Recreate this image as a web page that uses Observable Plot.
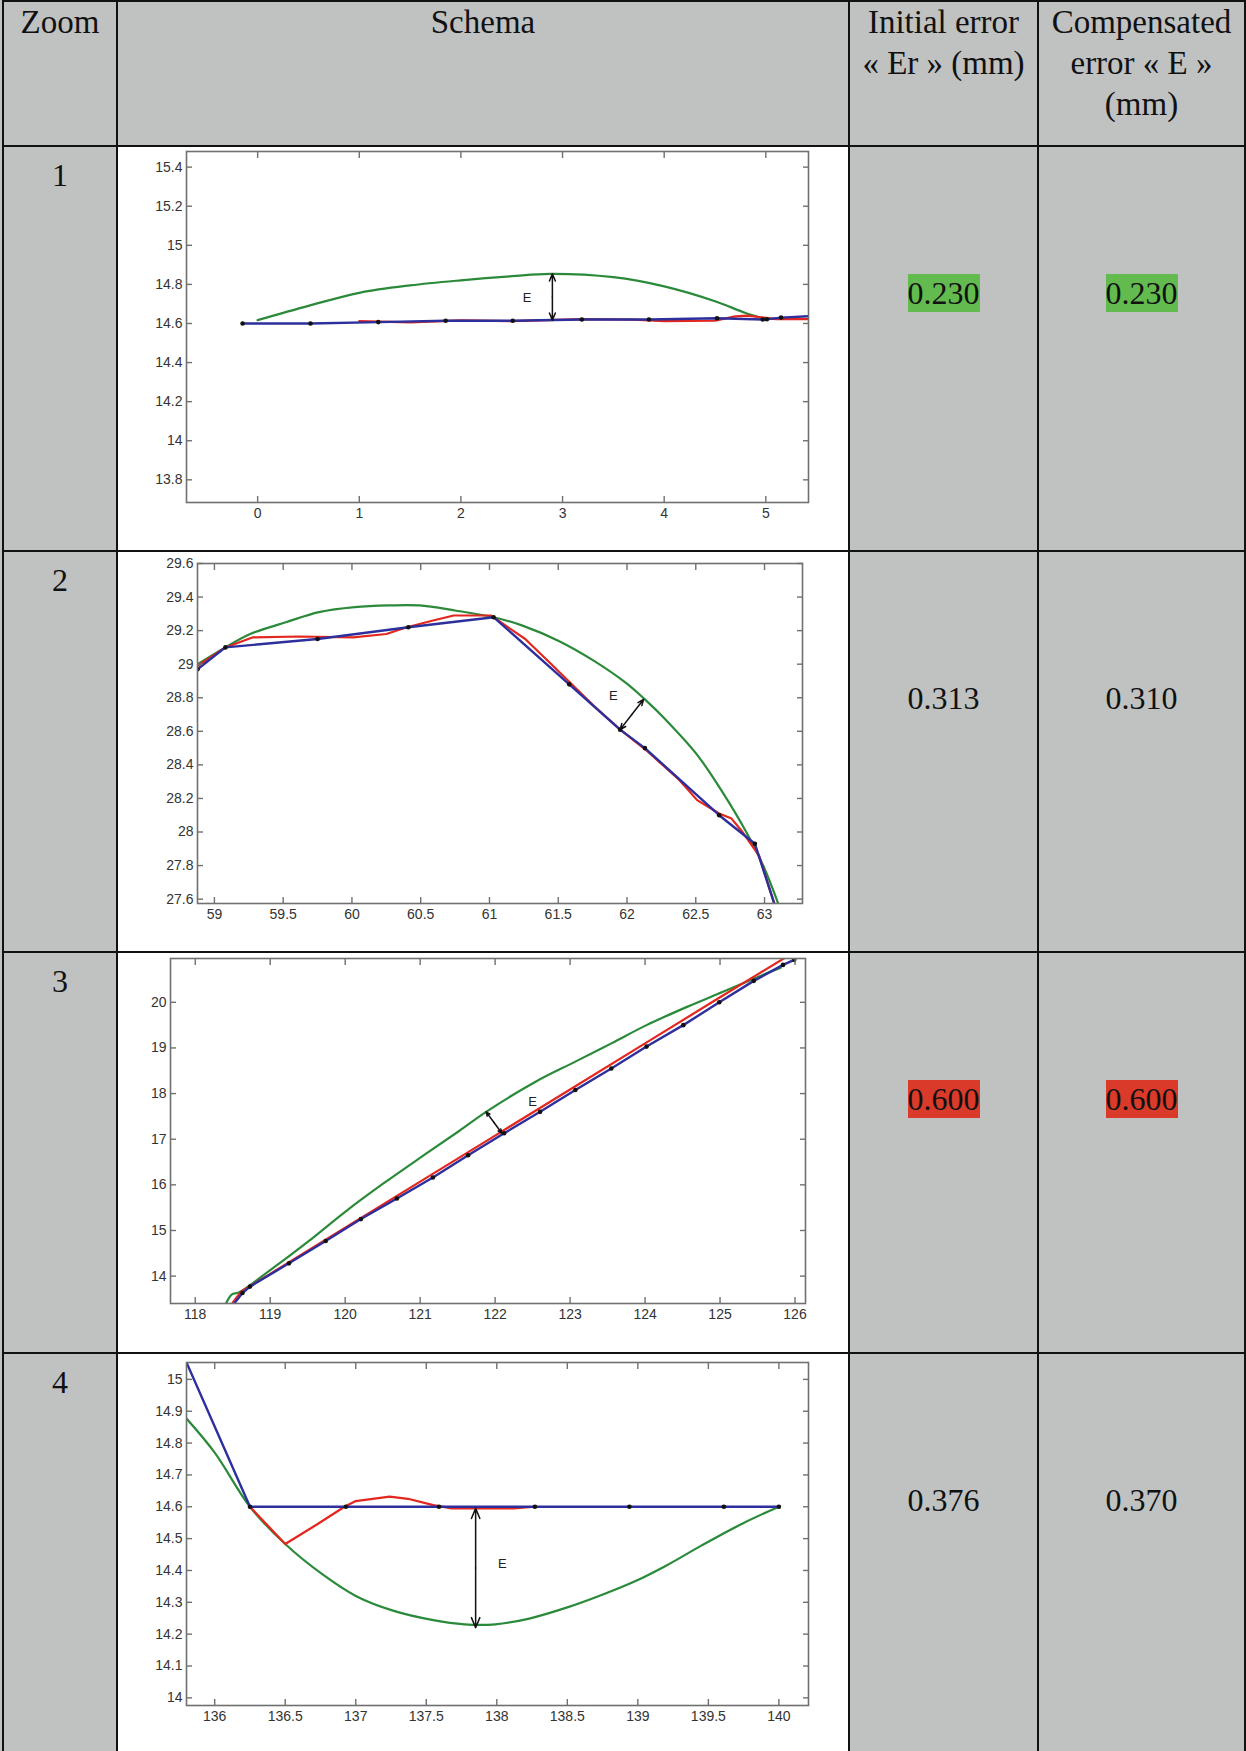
<!DOCTYPE html>
<html>
<head>
<meta charset="utf-8">
<script src="https://cdn.jsdelivr.net/npm/d3@7"></script>
<script src="https://cdn.jsdelivr.net/npm/@observablehq/plot@0.6"></script>
<style>
html, body { margin: 0; padding: 0; background: #ffffff; }
#page { position: relative; width: 1246px; height: 1751px; overflow: hidden; background: #bfc2c1;
  font-family: "Liberation Serif", "Times New Roman", serif; color: #111; }
.line { position: absolute; background: #111; }
.txt { position: absolute; text-align: center; font-size: 32px; white-space: pre-line; }
.head { font-size: 33px; }
.white { position: absolute; background: #ffffff; overflow: hidden; }
.hl { display: inline-block; line-height: 38px; }
</style>
</head>
<body>
<div id="page"></div>
<script>
// ---------- table data ----------
const headers = ["Zoom", "Schema", "Initial error\n« Er » (mm)", "Compensated\nerror « E »\n(mm)"];
const zoomIds = ["1", "2", "3", "4"];
const initialErrors = ["0.230", "0.313", "0.600", "0.376"];
const compensatedErrors = ["0.230", "0.310", "0.600", "0.370"];
const errorRank = ["low", "", "high", ""];

// ---------- chart 1 ----------
const c1Green = [[0,14.617],[0.5,14.69],[1,14.757],[1.5,14.795],[2,14.821],[2.5,14.842],[2.88,14.854],[3.5,14.837],[4,14.79],[4.5,14.714],[4.8,14.654],[5,14.622]];
const c1Red = [[1.0,14.612],[1.5,14.606],[2.0,14.616],[2.5,14.612],[3.2,14.622],[3.7,14.62],[4.0,14.612],[4.5,14.615],[4.7,14.636],[4.82,14.64],[4.95,14.632],[5.1,14.622],[5.42,14.622]];
const c1Blue = [[-0.148,14.6],[0.52,14.6],[1.187,14.607],[1.85,14.614],[2.51,14.614],[3.19,14.62],[3.85,14.62],[4.52,14.627],[4.97,14.62],[5.01,14.622],[5.15,14.63],[5.42,14.637]];
const c1Dots = [[-0.148,14.6],[0.52,14.6],[1.187,14.607],[1.85,14.614],[2.51,14.614],[3.19,14.62],[3.85,14.62],[4.52,14.627],[4.97,14.62],[5.01,14.622],[5.15,14.63]];
const c1Arrow = [[2.9,14.617],[2.9,14.854]];
const c1Label = [[2.65,14.731,"E"]];
const c1XTicks = [0,1,2,3,4,5];
const c1YTicks = [13.8,14,14.2,14.4,14.6,14.8,15,15.2,15.4];
const c1XDomain = [-0.70, 5.42];
const c1YDomain = [13.684, 15.48];

// ---------- chart 2 ----------
const c2Green = [[58.877,29.0],[59.08,29.1],[59.26,29.18],[59.52,29.25],[59.76,29.31],[60.02,29.34],[60.27,29.35],[60.49,29.35],[60.75,29.32],[61.03,29.28],[61.24,29.23],[61.5,29.14],[61.76,29.02],[61.99,28.89],[62.13,28.79],[62.28,28.67],[62.51,28.46],[62.7,28.23],[62.86,28.01],[62.99,27.8],[63.11,27.55]];
const c2Red = [[58.877,28.99],[59.08,29.1],[59.28,29.16],[59.62,29.165],[60.01,29.16],[60.25,29.18],[60.4,29.22],[60.59,29.26],[60.74,29.29],[61.01,29.29],[61.26,29.15],[61.45,29.0],[61.76,28.75],[61.95,28.61],[62.15,28.48],[62.38,28.31],[62.51,28.19],[62.67,28.11],[62.76,28.08],[62.84,28.0],[62.96,27.86],[63.08,27.55]];
const c2Blue = [[58.877,28.97],[59.08,29.1],[59.75,29.15],[60.41,29.22],[61.03,29.28],[61.58,28.88],[61.95,28.61],[62.13,28.5],[62.67,28.1],[62.93,27.93],[63.08,27.55]];
const c2Dots = [[58.877,28.97],[59.08,29.1],[59.75,29.15],[60.41,29.22],[61.03,29.28],[61.58,28.88],[61.95,28.61],[62.13,28.5],[62.67,28.1],[62.93,27.93]];
const c2Arrow = [[61.95,28.61],[62.12,28.79]];
const c2Label = [[61.9,28.81,"E"]];
const c2XTicks = [59,59.5,60,60.5,61,61.5,62,62.5,63];
const c2YTicks = [27.6,27.8,28,28.2,28.4,28.6,28.8,29,29.2,29.4,29.6];
const c2XDomain = [58.877, 63.276];
const c2YDomain = [27.574, 29.6];

// ---------- chart 3 ----------
const c3Green = [[118.41,13.4],[118.49,13.6],[118.58,13.64],[119.0,14.13],[119.5,14.75],[120.0,15.41],[120.51,16.03],[121.05,16.65],[121.52,17.18],[121.88,17.6],[122.54,18.26],[123.07,18.7],[123.55,19.1],[124.02,19.5],[124.56,19.9],[125.04,20.23],[125.57,20.6],[125.81,20.76]];
const c3Red = [[118.5,13.42],[118.61,13.66],[119,14.05],[120,15.06],[121,16.07],[122,17.08],[123,18.09],[124,19.1],[125,20.11],[125.93,21.04]];
const c3Blue = [[118.52,13.4],[118.63,13.63],[118.73,13.77],[119.25,14.28],[119.74,14.77],[120.21,15.25],[120.69,15.7],[121.17,16.16],[121.64,16.65],[122.12,17.13],[122.6,17.6],[123.07,18.08],[123.55,18.55],[124.02,19.03],[124.51,19.5],[124.99,20.0],[125.45,20.47],[125.84,20.82],[125.99,20.93]];
const c3Dots = [[118.63,13.63],[118.73,13.77],[119.25,14.28],[119.74,14.77],[120.21,15.25],[120.69,15.7],[121.17,16.16],[121.64,16.65],[122.12,17.13],[122.6,17.6],[123.07,18.08],[123.55,18.55],[124.02,19.03],[124.51,19.5],[124.99,20.0],[125.45,20.47],[125.84,20.82],[125.99,20.93]];
const c3Arrow = [[121.88,17.6],[122.09,17.13]];
const c3Label = [[122.5,17.82,"E"]];
const c3XTicks = [118,119,120,121,122,123,124,125,126];
const c3YTicks = [14,15,16,17,18,19,20];
const c3XDomain = [117.67, 126.14];
const c3YDomain = [13.4, 20.96];

// ---------- chart 4 ----------
const c4Green = [[135.8,14.877],[136.0,14.77],[136.25,14.6],[136.5,14.483],[136.76,14.389],[137.0,14.32],[137.27,14.273],[137.55,14.244],[137.77,14.231],[137.99,14.231],[138.23,14.249],[138.5,14.284],[138.72,14.319],[138.98,14.366],[139.2,14.415],[139.45,14.478],[139.74,14.547],[140.0,14.6]];
const c4Red = [[136.25,14.6],[136.5,14.483],[136.73,14.546],[136.92,14.6],[137.0,14.618],[137.24,14.632],[137.37,14.625],[137.55,14.605],[137.68,14.595],[138.12,14.595],[138.27,14.6]];
const c4Blue = [[135.8,15.053],[136.25,14.6],[136.93,14.6],[137.59,14.6],[138.27,14.6],[138.94,14.6],[139.61,14.6],[140.0,14.6]];
const c4Dots = [[136.25,14.6],[136.93,14.6],[137.59,14.6],[138.27,14.6],[138.94,14.6],[139.61,14.6],[140.0,14.6]];
const c4Arrow = [[137.85,14.595],[137.85,14.22]];
const c4Label = [[138.04,14.42,"E"]];
const c4XTicks = [136,136.5,137,137.5,138,138.5,139,139.5,140];
const c4YTicks = [14,14.1,14.2,14.3,14.4,14.5,14.6,14.7,14.8,14.9,15];
const c4XDomain = [135.80, 140.21];
const c4YDomain = [13.976, 15.053];

// ---------- styling / layout ----------
const GREEN = "#2b8a3a", RED = "#e3261e", BLUE = "#2c2f9c", AXIS = "#707070";
const colX = [3, 117, 849, 1038, 1245];
const rowY = [1, 146, 551, 952, 1353, 1760];
const fmt = d => String(+(+d).toFixed(2));

function makeChart(spec) {
  const X = d => d[0], Y = d => d[1];
  const [a, b] = spec.arrow;
  const mid = [(a[0] + b[0]) / 2, (a[1] + b[1]) / 2];
  return Plot.plot({
    width: spec.width, height: spec.height,
    marginLeft: spec.m[0], marginRight: spec.m[1], marginTop: spec.m[2], marginBottom: spec.m[3],
    x: {domain: spec.xDomain},
    y: {domain: spec.yDomain},
    style: {fontFamily: "'Liberation Sans', Arial, sans-serif", fontSize: "14px", background: "#ffffff", color: "#333"},
    marks: [
      Plot.line(spec.green, {x: X, y: Y, stroke: GREEN, strokeWidth: 2.2, curve: "catmull-rom", clip: true}),
      Plot.line(spec.red, {x: X, y: Y, stroke: RED, strokeWidth: 2.2, clip: true}),
      Plot.line(spec.blue, {x: X, y: Y, stroke: BLUE, strokeWidth: 2.4, clip: true}),
      Plot.dot(spec.dots, {x: X, y: Y, r: 2.3, fill: "#111", stroke: "none", clip: true}),
      Plot.arrow([[mid, a], [mid, b]], {x1: d => d[0][0], y1: d => d[0][1], x2: d => d[1][0], y2: d => d[1][1],
        stroke: "#111", strokeWidth: 1.5, headLength: 11, headAngle: 45}),
      Plot.text(spec.label, {x: X, y: Y, text: d => d[2], fontSize: 13, fill: "#222"}),
      Plot.frame({stroke: AXIS, strokeWidth: 1.6}),
      Plot.axisX(spec.xTicks, {anchor: "bottom", tickSize: 0, tickPadding: 6, tickFormat: fmt, label: null, fill: "#333", fontSize: 14}),
      Plot.axisY(spec.yTicks, {anchor: "left", tickSize: 0, tickPadding: 4, tickFormat: fmt, label: null, fill: "#333", fontSize: 14}),
      Plot.axisX(spec.xTicks, {anchor: "bottom", tickSize: 6, dy: -6, tickFormat: () => "", label: null, stroke: AXIS, strokeWidth: 1.4}),
      Plot.axisX(spec.xTicks, {anchor: "top", tickSize: 6, dy: 6, tickFormat: () => "", label: null, stroke: AXIS, strokeWidth: 1.4}),
      Plot.axisY(spec.yTicks, {anchor: "left", tickSize: 6, dx: 6, tickFormat: () => "", label: null, stroke: AXIS, strokeWidth: 1.4}),
      Plot.axisY(spec.yTicks, {anchor: "right", tickSize: 6, dx: -6, tickFormat: () => "", label: null, stroke: AXIS, strokeWidth: 1.4})
    ]
  });
}

const specs = [
  {green: c1Green, red: c1Red, blue: c1Blue, dots: c1Dots, arrow: c1Arrow, label: c1Label, xTicks: c1XTicks, yTicks: c1YTicks, xDomain: c1XDomain, yDomain: c1YDomain, box: [186, 808, 151, 502]},
  {green: c2Green, red: c2Red, blue: c2Blue, dots: c2Dots, arrow: c2Arrow, label: c2Label, xTicks: c2XTicks, yTicks: c2YTicks, xDomain: c2XDomain, yDomain: c2YDomain, box: [197, 802, 563, 903]},
  {green: c3Green, red: c3Red, blue: c3Blue, dots: c3Dots, arrow: c3Arrow, label: c3Label, xTicks: c3XTicks, yTicks: c3YTicks, xDomain: c3XDomain, yDomain: c3YDomain, box: [170, 805, 958, 1303]},
  {green: c4Green, red: c4Red, blue: c4Blue, dots: c4Dots, arrow: c4Arrow, label: c4Label, xTicks: c4XTicks, yTicks: c4YTicks, xDomain: c4XDomain, yDomain: c4YDomain, box: [186, 808, 1362, 1705]}
];

const page = document.getElementById("page");
function el(cls, css, text) {
  const d = document.createElement("div");
  d.className = cls;
  Object.assign(d.style, css);
  if (text != null) d.textContent = text;
  page.appendChild(d);
  return d;
}

// white schema cells with charts
zoomIds.forEach((z, r) => {
  const top = rowY[r + 1] + 1, bottom = rowY[r + 2] - 1;
  const left = colX[1] + 1, right = colX[2] - 1;
  const w = el("white", {left: left + "px", top: top + "px", width: (right - left) + "px", height: (bottom - top) + "px"});
  const s = specs[r];
  const height = Math.min(bottom, 1751) - top;
  const chart = makeChart({...s, width: right - left, height,
    m: [s.box[0] - left, right - s.box[1], s.box[2] - top, (top + height) - s.box[3]]});
  chart.style.display = "block";
  w.appendChild(chart);
});

// header texts
headers.forEach((h, c) => {
  el("txt head", {left: (colX[c] + 1) + "px", width: (colX[c + 1] - colX[c] - 2) + "px", top: "1.5px", lineHeight: "41px"}, h);
});

// body texts
zoomIds.forEach((z, r) => {
  const top = rowY[r + 1];
  el("txt", {left: (colX[0] + 1) + "px", width: (colX[1] - colX[0] - 2) + "px", top: (top + 9) + "px", lineHeight: "40px"}, z);
  [initialErrors[r], compensatedErrors[r]].forEach((v, k) => {
    const c = k + 2;
    const d = el("txt", {left: (colX[c] + 1) + "px", width: (colX[c + 1] - colX[c] - 2) + "px", top: (top + 127) + "px", lineHeight: "40px"});
    const s = document.createElement("span");
    s.className = "hl";
    s.textContent = v;
    if (errorRank[r] === "low") s.style.background = "#63bb4f";
    if (errorRank[r] === "high") s.style.background = "#d93a2a";
    d.appendChild(s);
  });
});

// grid lines
colX.forEach(x => el("line", {left: (x - 1) + "px", top: (rowY[0] - 1) + "px", width: "2px", height: "1800px"}));
rowY.slice(0, 5).forEach(y => el("line", {left: (colX[0] - 1) + "px", top: (y - 1) + "px", width: (colX[4] - colX[0] + 2) + "px", height: "2px"}));
</script>
</body>
</html>
